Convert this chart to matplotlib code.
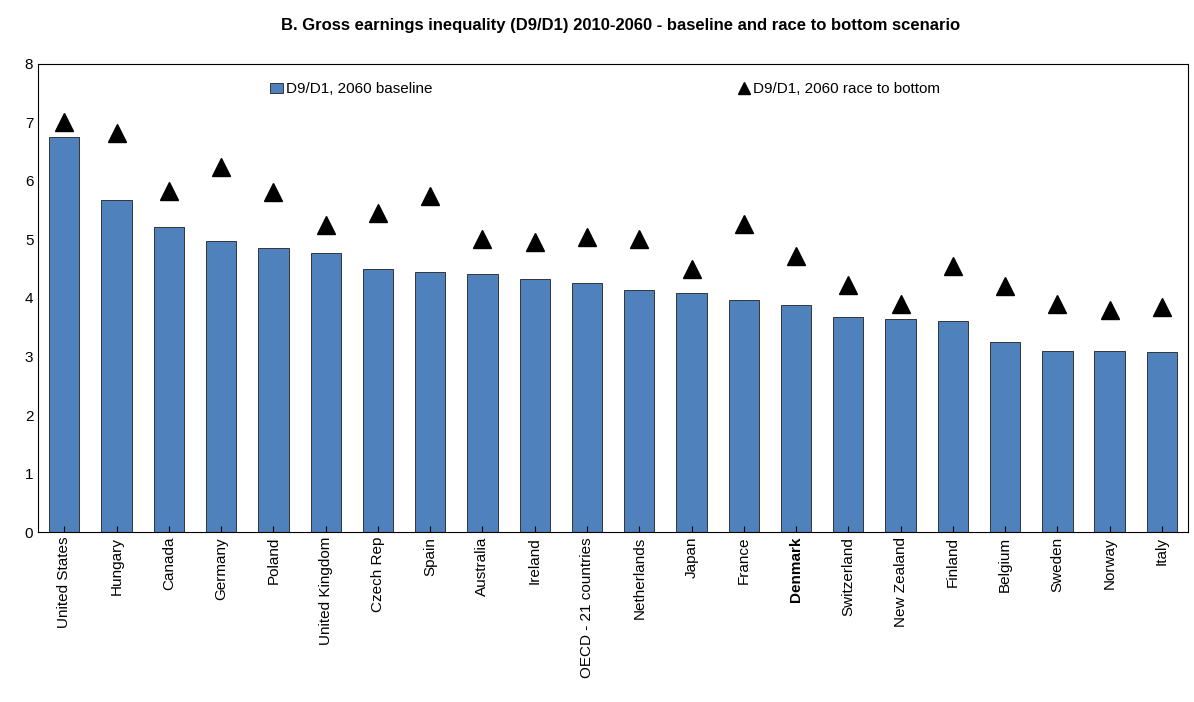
import matplotlib.pyplot as plt
import numpy as np

plt.rcParams['font.family'] = ['Liberation Sans', 'DejaVu Sans']

countries = ["United States", "Hungary", "Canada", "Germany", "Poland", "United Kingdom",
             "Czech Rep", "Spain", "Australia", "Ireland", "OECD - 21 countries", "Netherlands",
             "Japan", "France", "Denmark", "Switzerland", "New Zealand", "Finland", "Belgium",
             "Sweden", "Norway", "Italy"]
baseline = [6.75, 5.67, 5.21, 4.97, 4.85, 4.77, 4.50, 4.44, 4.41, 4.32, 4.26, 4.14,
            4.09, 3.97, 3.88, 3.67, 3.64, 3.61, 3.25, 3.10, 3.09, 3.07]
race = [7.0, 6.82, 5.83, 6.24, 5.81, 5.25, 5.45, 5.74, 5.0, 4.95, 5.05, 5.0,
        4.5, 5.26, 4.72, 4.22, 3.9, 4.55, 4.2, 3.9, 3.8, 3.85]

fig = plt.figure(figsize=(11.94, 7.02), dpi=100)
ax = fig.add_axes([0.032, 0.242, 0.963, 0.667])
x = np.arange(len(countries))
bars = ax.bar(x, baseline, width=0.58, color="#4F81BD", edgecolor="#1F1F1F", linewidth=0.6,
              label="D9/D1, 2060 baseline")
tri, = ax.plot(x, race, linestyle="none", marker="^", markersize=13, color="black",
               label="D9/D1, 2060 race to bottom")

ax.set_xlim(-0.5, len(countries) - 0.5)
ax.set_ylim(0, 8)
ax.set_yticks(range(9))
ax.set_xticks(x)
ax.set_xticklabels(countries, rotation=90, fontsize=11)
for t in ax.get_xticklabels():
    if t.get_text() == "Denmark":
        t.set_fontweight("bold")
ax.tick_params(axis='y', labelsize=11, direction='in', length=0)
ax.tick_params(axis='x', direction='in', length=4)
leg = ax.legend([bars, tri], ["D9/D1, 2060 baseline", "D9/D1, 2060 race to bottom"],
                loc="upper left", ncol=2, frameon=False, fontsize=11, columnspacing=20,
                handlelength=0.8, handletextpad=0.2, markerscale=0.7,
                bbox_to_anchor=(0.19, 0.99))
fig.suptitle("B. Gross earnings inequality (D9/D1) 2010-2060 - baseline and race to bottom scenario",
             fontsize=12, fontweight="bold", x=0.52, y=0.975)
fig.savefig("out.png", dpi=100)
